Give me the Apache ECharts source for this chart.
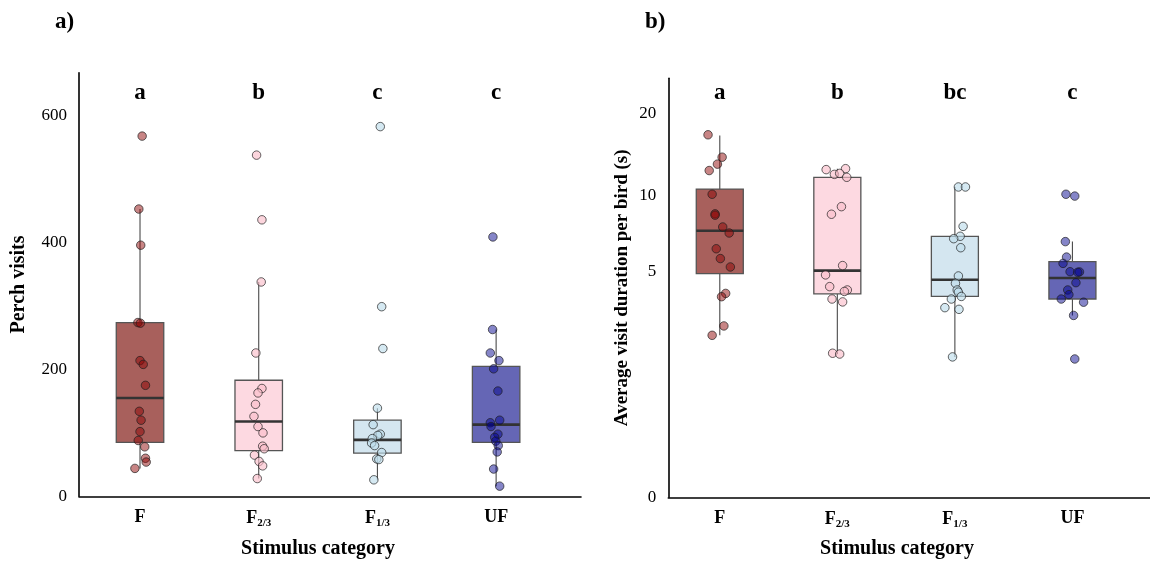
<!DOCTYPE html>
<html><head><meta charset="utf-8">
<script src="https://cdn.jsdelivr.net/npm/echarts@6/dist/echarts.min.js"></script>
<style>html,body{margin:0;padding:0;background:#fff}#c{width:1150px;height:562px}</style>
</head><body><div id="c"></div>
<script>
// ---------- data ----------
const categories = ['F', 'F2/3', 'F1/3', 'UF'];
const groupLetters_a = ['a', 'b', 'c', 'c'];
const groupLetters_b = ['a', 'b', 'bc', 'c'];

// panel a: perch visits (individual points)
const visitsF   = [568, 453, 396, 274, 273, 214, 208, 175, 134, 120, 102, 88, 78, 60, 54, 44];
const visitsF23 = [538, 436, 338, 226, 170, 163, 145, 126, 110, 100, 79, 75, 65, 55, 48, 28];
const visitsF13 = [583, 299, 233, 139, 113, 98, 96, 91, 84, 80, 69, 59, 58, 26];
const visitsUF  = [409, 263, 226, 214, 201, 166, 120, 116, 110, 98, 93, 87, 80, 70, 43, 16];
// horizontal jitter of each point (category units)
const jitVisF   = [0.018, -0.01, 0.006, -0.018, 0.003, 0, 0.027, 0.046, -0.006, 0.009, 0, -0.015, 0.04, 0.046, 0.052, -0.043];
const jitVisF23 = [-0.018, 0.027, 0.021, -0.024, 0.027, -0.006, -0.027, -0.04, -0.006, 0.036, 0.033, 0.046, -0.036, 0.003, 0.033, -0.012];
const jitVisF13 = [0.024, 0.036, 0.046, 0, -0.036, 0.024, 0.003, -0.043, -0.049, -0.024, 0.036, -0.006, 0.012, -0.03];
const jitVisUF  = [-0.027, -0.03, -0.049, 0.024, -0.021, 0.015, 0.03, -0.049, -0.043, 0.015, -0.012, -0.003, 0.018, 0.009, -0.021, 0.03];
// box stats [whisker low, Q1, median, Q3, whisker high]
const visitsBoxF   = [44, 85, 155, 274, 453];
const visitsBoxF23 = [28, 72, 118, 183, 338];
const visitsBoxF13 = [26, 68, 89, 120, 139];
const visitsBoxUF  = [16, 85, 113, 205, 263];
const visitsTicks = [0, 200, 400, 600];

// panel b: average visit duration (s)
const durF   = [16.8, 13.9, 13.1, 12.4, 10.1, 8.5, 8.4, 7.56, 7.16, 6.2, 5.66, 5.23, 4.05, 3.92, 2.9, 2.62];
const durF23 = [12.5, 12.6, 12.0, 12.1, 11.7, 9.06, 8.47, 5.3, 4.85, 4.33, 4.19, 4.13, 3.83, 3.72, 2.14, 2.12];
const durF13 = [10.76, 10.76, 7.6, 6.95, 6.8, 6.26, 4.8, 4.47, 4.19, 4.1, 3.93, 3.83, 3.51, 3.45, 2.05];
const durUF  = [10.1, 9.94, 6.62, 5.74, 5.41, 4.99, 5.0, 4.97, 4.5, 4.19, 4.0, 3.83, 3.71, 3.24, 2.0];
const jitDurF   = [-0.1, 0.02, -0.02, -0.09, -0.065, -0.04, -0.04, 0.025, 0.08, -0.03, 0.005, 0.09, 0.05, 0.015, 0.035, -0.065];
const jitDurF23 = [-0.095, 0.07, -0.025, 0.02, 0.08, 0.035, -0.05, 0.045, -0.1, -0.065, 0.085, 0.06, -0.045, 0.045, -0.04, 0.02];
const jitDurF13 = [0.03, 0.09, 0.07, 0.045, -0.01, 0.05, 0.03, 0.005, 0.02, 0.03, 0.055, -0.03, -0.085, 0.035, -0.02];
const jitDurUF  = [-0.055, 0.02, -0.06, -0.05, -0.08, 0.06, -0.02, 0.045, 0.03, -0.04, -0.03, -0.095, 0.095, 0.01, 0.02];
const durBoxF   = [2.62, 4.91, 7.31, 10.57, 16.7];
const durBoxF23 = [2.12, 4.03, 5.05, 11.7, 12.6];
const durBoxF13 = [2.05, 3.93, 4.63, 6.95, 10.76];
const durBoxUF  = [3.24, 3.83, 4.71, 5.5, 6.62];
const durTicks = [0, 5, 10, 20];

// ---------- styling ----------
const FONT = '"Liberation Serif", "Times New Roman", serif';
const boxFill = ['#A8605C', '#FDD9E1', '#D4E6F0', '#6566B5'];
const pointFill = ['rgba(139,0,0,0.6)', 'rgba(250,190,202,0.8)', 'rgba(190,220,235,0.8)', 'rgba(0,0,139,0.6)'];

// y transform for panel b: log10(x + 1)
const tr = v => Math.log10(v + 1);
const inv = v => Math.pow(10, v) - 1;

const visitsPts = [visitsF, visitsF23, visitsF13, visitsUF];
const visitsJit = [jitVisF, jitVisF23, jitVisF13, jitVisUF];
const visitsBox = [visitsBoxF, visitsBoxF23, visitsBoxF13, visitsBoxUF];
const durPts = [durF, durF23, durF13, durUF];
const durJit = [jitDurF, jitDurF23, jitDurF13, jitDurUF];
const durBox = [durBoxF, durBoxF23, durBoxF13, durBoxUF];

function catLabel(i) {
  const c = categories[i];
  if (c === 'F2/3') return '{m|F}{s|2/3}';
  if (c === 'F1/3') return '{m|F}{s|1/3}';
  return '{m|' + c + '}';
}

function boxRender(params, api) {
  const x = api.value(0);
  const half = api.size([0.4, 0])[0] / 2;
  const cx = api.coord([x, 0])[0];
  const y = k => api.coord([x, api.value(k)])[1];
  const yMin = y(1), yQ1 = y(2), yMed = y(3), yQ3 = y(4), yMax = y(5);
  const idx = params.dataIndex;
  return {
    type: 'group',
    children: [
      { type: 'line', shape: { x1: cx, y1: yQ1, x2: cx, y2: yMin }, style: { stroke: '#4a4a4a', lineWidth: 1.1 } },
      { type: 'line', shape: { x1: cx, y1: yQ3, x2: cx, y2: yMax }, style: { stroke: '#4a4a4a', lineWidth: 1.1 } },
      { type: 'rect', shape: { x: cx - half, y: yQ3, width: half * 2, height: yQ1 - yQ3 }, style: { fill: boxFill[idx], stroke: '#555', lineWidth: 1.3 } },
      { type: 'line', shape: { x1: cx - half, y1: yMed, x2: cx + half, y2: yMed }, style: { stroke: '#333', lineWidth: 2.6 } }
    ]
  };
}

const series = [];
// boxes
series.push({
  type: 'custom', xAxisIndex: 0, yAxisIndex: 0, renderItem: boxRender, z: 2,
  data: visitsBox.map((b, i) => [i + 1, ...b])
});
series.push({
  type: 'custom', xAxisIndex: 1, yAxisIndex: 1, renderItem: boxRender, z: 2,
  data: durBox.map((b, i) => [i + 1, ...b.map(tr)])
});
// points
for (let g = 0; g < 4; g++) {
  series.push({
    type: 'scatter', xAxisIndex: 0, yAxisIndex: 0, z: 5, symbolSize: 8.5,
    itemStyle: { color: pointFill[g], borderColor: 'rgba(30,30,30,0.85)', borderWidth: 1 },
    data: visitsPts[g].map((v, k) => [g + 1 + visitsJit[g][k], v])
  });
  series.push({
    type: 'scatter', xAxisIndex: 1, yAxisIndex: 1, z: 5, symbolSize: 8.5,
    itemStyle: { color: pointFill[g], borderColor: 'rgba(30,30,30,0.85)', borderWidth: 1 },
    data: durPts[g].map((v, k) => [g + 1 + durJit[g][k], tr(v)])
  });
}
// significance letters
const letterLabel = { show: true, position: 'inside', fontFamily: FONT, fontWeight: 'bold', fontSize: 23, color: '#000', textBorderWidth: 0, opacity: 1 };
series.push({
  type: 'scatter', xAxisIndex: 0, yAxisIndex: 0, symbolSize: 0, silent: true,
  itemStyle: { color: '#000' },
  label: Object.assign({ formatter: p => groupLetters_a[p.dataIndex] }, letterLabel),
  data: groupLetters_a.map((l, i) => [i + 1, 636])
});
series.push({
  type: 'scatter', xAxisIndex: 1, yAxisIndex: 1, symbolSize: 0, silent: true,
  itemStyle: { color: '#000' },
  label: Object.assign({ formatter: p => groupLetters_b[p.dataIndex] }, letterLabel),
  data: groupLetters_b.map((l, i) => [i + 1, 1.3946])
});

const axisLine = { show: true, lineStyle: { color: '#000', width: 1.6 } };
const xLabel = {
  fontFamily: FONT, margin: 12,
  customValues: [1, 2, 3, 4],
  formatter: v => catLabel(Math.round(v) - 1),
  rich: {
    m: { fontFamily: FONT, fontWeight: 'bold', fontSize: 18, color: '#000' },
    s: { fontFamily: FONT, fontWeight: 'bold', fontSize: 11, color: '#000', padding: [9, 0, 0, 0] }
  }
};
const yLabelStyle = { fontFamily: FONT, fontSize: 17, color: '#000', margin: 12 };

const option = {
  backgroundColor: '#fff',
  animation: false,
  grid: [
    { left: 79, top: 72.7, width: 502, height: 423.6 },
    { left: 668.3, top: 78.3, width: 484, height: 419 }
  ],
  xAxis: [
    { type: 'value', gridIndex: 0, min: 0.486, max: 4.715, axisLine, axisTick: { show: false }, splitLine: { show: false }, axisLabel: xLabel },
    { type: 'value', gridIndex: 1, min: 0.562, max: 4.66, axisLine, axisTick: { show: false }, splitLine: { show: false }, axisLabel: xLabel }
  ],
  yAxis: [
    { type: 'value', gridIndex: 0, min: 0, max: 668, axisLine, axisTick: { show: false }, splitLine: { show: false },
      axisLabel: Object.assign({ customValues: visitsTicks }, yLabelStyle),
      name: 'Perch visits', nameLocation: 'middle', nameRotate: 90, nameGap: 50,
      nameTextStyle: { fontFamily: FONT, fontWeight: 'bold', fontSize: 20, color: '#000' } },
    { type: 'value', gridIndex: 1, min: 0, max: 1.4453, axisLine, axisTick: { show: false }, splitLine: { show: false },
      axisLabel: Object.assign({ customValues: durTicks.map(tr), formatter: v => String(Math.round(inv(v))) }, yLabelStyle),
      name: 'Average visit duration per bird (s)', nameLocation: 'middle', nameRotate: 90, nameGap: 37,
      nameTextStyle: { fontFamily: FONT, fontWeight: 'bold', fontSize: 19, color: '#000' } }
  ],
  graphic: [
    { type: 'text', left: 55, top: 11, style: { text: 'a)', font: 'bold 23px ' + FONT, fill: '#000' } },
    { type: 'text', left: 645, top: 11, style: { text: 'b)', font: 'bold 23px ' + FONT, fill: '#000' } },
    { type: 'text', x: 318, y: 549, style: { text: 'Stimulus category', font: 'bold 20px ' + FONT, fill: '#000', align: 'center', verticalAlign: 'middle' } },
    { type: 'text', x: 897, y: 549, style: { text: 'Stimulus category', font: 'bold 20px ' + FONT, fill: '#000', align: 'center', verticalAlign: 'middle' } }
  ],
  series
};
const chart = echarts.init(document.getElementById('c'), null, { renderer: 'canvas' });
chart.setOption(option);
</script></body></html>
